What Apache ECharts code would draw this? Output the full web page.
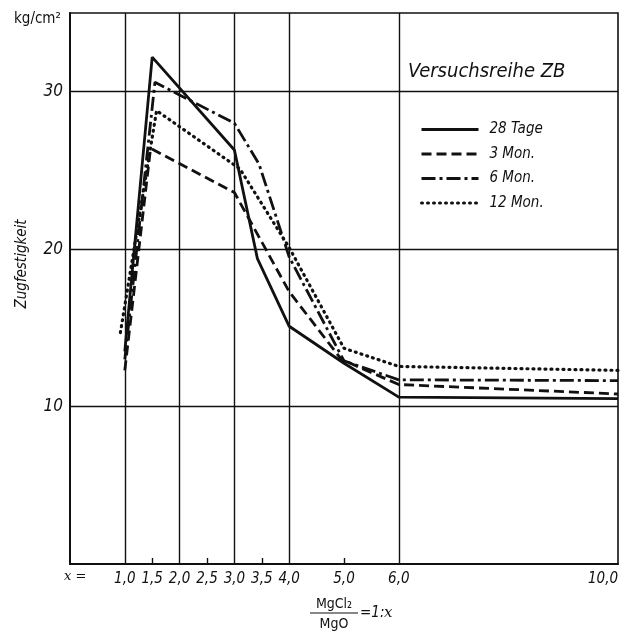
<!DOCTYPE html>
<html>
<head>
<meta charset="utf-8">
<script src="https://cdn.jsdelivr.net/npm/echarts@6/dist/echarts.min.js"></script>
<style>
  html, body { margin: 0; padding: 0; background: #fff; }
  #chart { width: 634px; height: 639px; }
</style>
</head>
<body>
<div id="chart"></div>
<script>
// Zugfestigkeit (kg/cm²) against the ratio MgCl2 : MgO = 1 : x
const seriesNames = ['28 Tage', '3 Mon.', '6 Mon.', '12 Mon.'];

const tage28X = [1.0, 1.5, 3.0, 3.42, 4.0, 5.0, 6.0, 10.0];
const tage28Y = [13.5, 32.2, 26.3, 19.4, 15.1, 12.75, 10.6, 10.5];

const mon3X = [1.0, 1.47, 3.0, 4.0, 4.95, 6.0, 10.0];
const mon3Y = [12.3, 26.4, 23.6, 17.3, 13.0, 11.4, 10.8];

const mon6X = [1.0, 1.55, 3.0, 3.45, 4.0, 5.0, 6.0, 10.0];
const mon6Y = [13.0, 30.6, 28.0, 25.4, 19.5, 12.9, 11.7, 11.65];

const mon12X = [0.92, 1.58, 3.1, 4.0, 5.0, 6.0, 10.0];
const mon12Y = [14.7, 28.8, 25.1, 20.1, 13.7, 12.55, 12.3];

const xTickLabels = [1.0, 1.5, 2.0, 2.5, 3.0, 3.5, 4.0, 5.0, 6.0, 10.0];
const xShortTicks = [1.5, 2.5, 3.5, 5.0];
const xGridLines = [1, 2, 3, 4, 6];
const yTickLabels = [10, 20, 30];

const FONT = "'Liberation Sans Narrow', 'DejaVu Sans Condensed', 'Roboto', sans-serif";
const INK = '#111';

function pairs(xs, ys) { return xs.map((x, i) => [x, ys[i]]); }

const dashes = ['solid', [10, 5], [14, 4, 3, 4], [1, 5]];
const dataSets = [pairs(tage28X, tage28Y), pairs(mon3X, mon3Y), pairs(mon6X, mon6Y), pairs(mon12X, mon12Y)];

const lineSeries = seriesNames.map((name, i) => ({
  name: name,
  type: 'line',
  data: dataSets[i],
  symbol: 'none',
  smooth: false,
  lineStyle: { color: INK, width: i === 3 ? 3.2 : 2.8, type: dashes[i], cap: i === 3 ? 'round' : 'butt' },
  itemStyle: { color: INK },
  z: 3
}));

// grid lines of the diagram: verticals at selected x, horizontals at 10/20/30
const gridSeries = {
  type: 'line',
  data: [],
  silent: true,
  markLine: {
    silent: true,
    symbol: 'none',
    label: { show: false },
    lineStyle: { color: INK, width: 1.4, type: 'solid' },
    data: xGridLines.map(v => ({ xAxis: v })).concat(yTickLabels.map(v => ({ yAxis: v })))
  },
  z: 1
};

const chart = echarts.init(document.getElementById('chart'), null, { renderer: 'canvas' });
chart.setOption({
  animation: false,
  backgroundColor: '#fff',
  textStyle: { fontFamily: FONT, color: INK },
  title: {
    text: 'Versuchsreihe ZB',
    left: 403, top: 57,
    textStyle: { fontFamily: FONT, fontStyle: 'italic', fontWeight: 'normal', fontSize: 20, color: INK }
  },
  legend: {
    orient: 'vertical',
    left: 420, top: 122, padding: 0,
    itemWidth: 57, itemHeight: 14, itemGap: 9.5,
    data: seriesNames,
    itemStyle: { opacity: 0 },
    lineStyle: { width: 3 },
    textStyle: { fontFamily: FONT, fontStyle: 'italic', fontSize: 15, color: INK, padding: [0, 0, 0, 6] }
  },
  grid: {
    left: 70, right: 16, top: 13, bottom: 75,
    show: true, borderColor: INK, borderWidth: 1.6, backgroundColor: 'transparent'
  },
  xAxis: {
    type: 'value', min: 0, max: 10, interval: 0.5,
    axisLine: { show: true, lineStyle: { color: INK, width: 2 } },
    axisTick: { show: true, inside: true, length: 6, customValues: xShortTicks, lineStyle: { color: INK, width: 1.4 } },
    axisLabel: {
      customValues: xTickLabels,
      margin: 8,
      alignMaxLabel: 'right',
      fontFamily: FONT, fontStyle: 'italic', fontSize: 15, color: INK,
      formatter: v => v.toFixed(1).replace('.', ',')
    },
    splitLine: { show: false }
  },
  yAxis: {
    type: 'value', min: 0, max: 35, interval: 5,
    axisLine: { show: true, lineStyle: { color: INK, width: 2 } },
    axisTick: { show: false },
    axisLabel: {
      customValues: yTickLabels,
      margin: 7,
      fontFamily: FONT, fontStyle: 'italic', fontSize: 17, color: INK
    },
    splitLine: { show: false }
  },
  graphic: [
    { type: 'text', left: 14, top: 12, style: { text: 'kg/cm²', fontFamily: FONT, fontSize: 15, fill: INK } },
    { type: 'text', x: 22, y: 264, rotation: Math.PI / 2, style: { text: 'Zugfestigkeit', fontFamily: FONT, fontStyle: 'italic', fontSize: 15, fill: INK, align: 'center', verticalAlign: 'middle' } },
    { type: 'text', left: 64, top: 570, style: { text: 'x =', fontFamily: "'DejaVu Serif', serif", fontStyle: 'italic', fontSize: 13, fill: INK } },
    { type: 'text', x: 334, y: 604, style: { text: 'MgCl₂', fontFamily: FONT, fontSize: 14, fill: INK, align: 'center', verticalAlign: 'middle' } },
    { type: 'line', shape: { x1: 310, y1: 613, x2: 358, y2: 613 }, style: { stroke: INK, lineWidth: 1.2 } },
    { type: 'text', x: 334, y: 624, style: { text: 'MgO', fontFamily: FONT, fontSize: 14, fill: INK, align: 'center', verticalAlign: 'middle' } },
    { type: 'text', x: 360, y: 613, style: { text: '=1:', fontFamily: FONT, fontStyle: 'italic', fontSize: 15, fill: INK, verticalAlign: 'middle' } },
    { type: 'text', x: 384, y: 613, style: { text: 'x', fontFamily: "'DejaVu Serif', serif", fontStyle: 'italic', fontSize: 15, fill: INK, verticalAlign: 'middle' } }
  ],
  series: [gridSeries].concat(lineSeries)
});
</script>
</body>
</html>
